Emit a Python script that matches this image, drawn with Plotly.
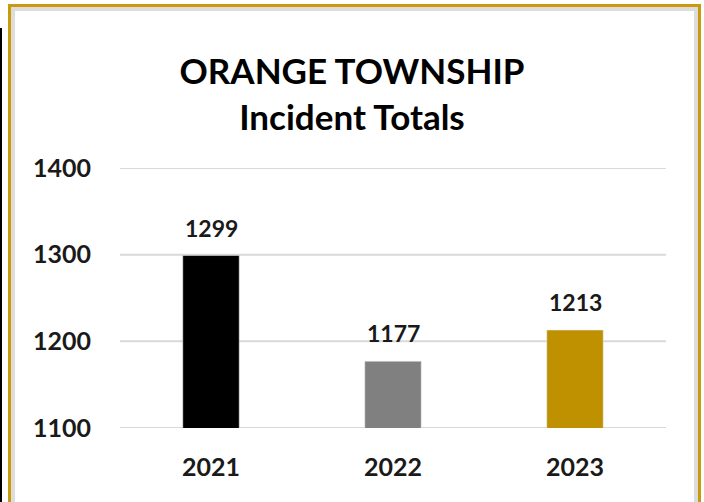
import plotly.graph_objects as go

years = ["2021", "2022", "2023"]
totals = [1299, 1177, 1213]
bar_colors = ["#000000", "#808080", "#BF9000"]
y_ticks = [1100, 1200, 1300, 1400]

W, H = 704, 502
L, R, T, B = 120, 38, 168, 74
pw, ph = W - L - R, H - T - B

def px(x):
    return (x - L) / pw

def py(y):
    return (H - B - y) / ph

FONT = "Lato"

fig = go.Figure(go.Bar(
    x=years, y=totals, marker_color=bar_colors, width=0.31,
))

for i, v in enumerate(totals):
    fig.add_annotation(x=i, y=v, xref="x", yref="y", text=str(v), showarrow=False,
                       yanchor="middle", yshift=28,
                       font=dict(family=FONT, size=23, color="#1a1a1a", weight="bold"))

shapes = [
    dict(type="line", xref="paper", yref="y", x0=0, x1=1, y0=t, y1=t,
         line=dict(color="#d9d9d9", width=2), layer="below")
    for t in y_ticks
]
shapes += [
    dict(type="rect", xref="paper", yref="paper", x0=px(13), x1=px(696), y0=py(540), y1=py(9),
         line=dict(color="#dcdcdc", width=4), layer="below"),
    dict(type="rect", xref="paper", yref="paper", x0=px(9.5), x1=px(699.5), y0=py(540), y1=py(5.5),
         line=dict(color="#C99A0E", width=3), layer="below"),
    dict(type="line", xref="paper", yref="paper", x0=px(1), x1=px(1), y0=py(28), y1=py(540),
         line=dict(color="#000000", width=2)),
]

fig.update_layout(
    width=W, height=H,
    margin=dict(l=L, r=R, t=T, b=B),
    paper_bgcolor="white", plot_bgcolor="white",
    title=dict(text="ORANGE TOWNSHIP<br>Incident Totals", x=0.5, xanchor="center",
               y=1 - 84 / H, yanchor="middle",
               font=dict(family=FONT, size=35, color="#000000", weight="bold")),
    xaxis=dict(type="category", categoryarray=years, range=[-0.5, len(years) - 0.5],
               autorange=False, showgrid=False, showline=False, ticks="", ticklabelstandoff=22,
               tickfont=dict(family=FONT, size=25, color="#1a1a1a", weight="bold")),
    yaxis=dict(range=[1100, 1400], autorange=False, tickvals=y_ticks, showgrid=False,
               zeroline=False, showline=False, ticks="", ticklabelstandoff=28,
               tickfont=dict(family=FONT, size=25, color="#1a1a1a", weight="bold")),
    shapes=shapes,
    showlegend=False,
)

fig.write_html("out.html", config={"displayModeBar": False},
               post_script="document.body.style.margin='0';")
